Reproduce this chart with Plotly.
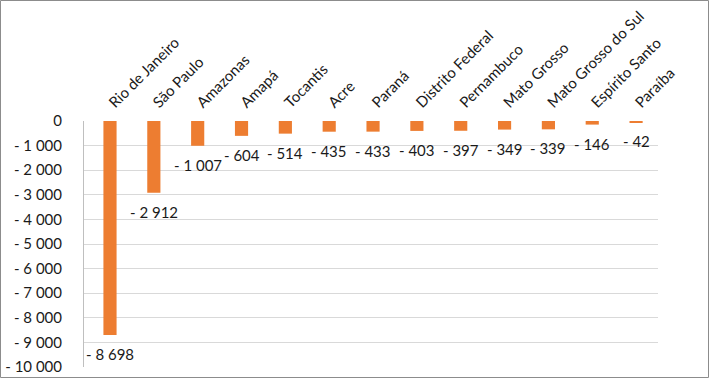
import plotly.graph_objects as go

states = ["Rio de Janeiro", "São Paulo", "Amazonas", "Amapá", "Tocantis", "Acre", "Paraná",
          "Distrito Federal", "Pernambuco", "Mato Grosso", "Mato Grosso do Sul", "Espírito Santo", "Paraíba"]
values = [-8698, -2912, -1007, -604, -514, -435, -433, -403, -397, -349, -339, -146, -42]
tick_vals = [0, -1000, -2000, -3000, -4000, -5000, -6000, -7000, -8000, -9000, -10000]


def fmt(v):
    if v == 0:
        return "0"
    s = f"{abs(v):,}".replace(",", " ")
    return "- " + s


tick_text = [fmt(v) for v in tick_vals]
labels = [fmt(v) for v in values]

W, H = 709, 378
ml, mr, mt, mb = 84, 51, 121, 11
pw, ph = W - ml - mr, H - mt - mb
FONT = "Lato, Open Sans, sans-serif"
TXT = "#1a1a1a"

fig = go.Figure(go.Bar(
    x=states, y=values,
    marker=dict(color="#ED7D31", line=dict(width=0)),
    width=0.3, cliponaxis=False, hoverinfo="skip",
))

for s, v, t in zip(states, values, labels):
    fig.add_annotation(x=s, y=v, text=t, showarrow=False, yanchor="top", xanchor="center",
                       yshift=-8, font=dict(size=15, color=TXT, family=FONT))

fig.update_layout(
    width=W, height=H, margin=dict(l=ml, r=mr, t=mt, b=mb),
    paper_bgcolor="white", plot_bgcolor="white", showlegend=False,
    font=dict(family=FONT, size=14, color=TXT),
    xaxis=dict(side="top", tickangle=-45, showgrid=False, showline=False, ticks="",
               tickfont=dict(size=15), automargin=False, ticklabelstandoff=6),
    yaxis=dict(range=[-10000, 0], tickvals=tick_vals, ticktext=tick_text, showgrid=True,
               gridcolor="#d9d9d9", gridwidth=1, zeroline=False, showline=True,
               linecolor="#bfbfbf", linewidth=1, ticks="", tickfont=dict(size=15),
               automargin=False, ticklabelstandoff=18),
    shapes=[dict(type="rect", xref="paper", yref="paper",
                 x0=(0.5 - ml) / pw, x1=(W - 0.5 - ml) / pw,
                 y0=-(mb - 0.5) / ph, y1=1 + (mt - 0.5) / ph,
                 line=dict(color="#8c8c8c", width=1))],
)

fig.write_html("out.html", config={"displayModeBar": False},
               post_script="document.body.style.margin='0';document.body.style.overflow='hidden';")
